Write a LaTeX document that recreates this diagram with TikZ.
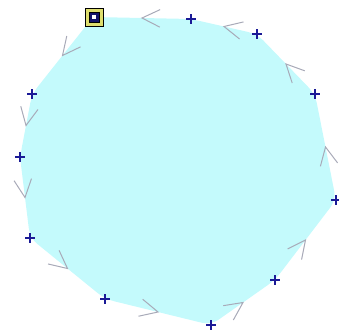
\documentclass[tikz,border=0pt]{standalone}
\usetikzlibrary{calc}

\definecolor{polyfill}{RGB}{196,250,252}
\definecolor{chevgray}{RGB}{168,170,184}
\definecolor{plusblue}{RGB}{26,26,150}
\definecolor{ringyellow}{RGB}{222,222,110}

\begin{document}
\begin{tikzpicture}[
  x=1pt, y=-1pt,
  area/.style={fill=polyfill, rounded corners=9pt},
  chev/.style={draw=chevgray, line width=1pt},
  plusmark/.pic={\draw[plusblue, line width=1.8pt] (-5,0) -- (5,0) (0,-5) -- (0,5);},
  ring/.style={draw=black, line width=0.8pt, fill=ringyellow, minimum size=18pt, inner sep=0pt},
  core/.style={draw=black, line width=0.8pt, fill=plusblue!70!black, minimum size=10pt, inner sep=0pt},
  dot/.style={fill=white, minimum size=4pt, inner sep=0pt}
]
\useasboundingbox (0,0) rectangle (339,332);

% vertices, in drawing order
\coordinate (p0) at (93,17);
\coordinate (p1) at (32,94);
\coordinate (p2) at (20,157);
\coordinate (p3) at (30,238);
\coordinate (p4) at (105,299);
\coordinate (p5) at (211,325);
\coordinate (p6) at (275,280);
\coordinate (p7) at (336,200);
\coordinate (p8) at (315,94);
\coordinate (p9) at (257,34);
\coordinate (p10) at (191,19);

\fill[area] (p0) -- (p1) -- (p2) -- (p3) -- (p4) -- (p5) -- (p6)
  -- (p7) -- (p8) -- (p9) -- (p10) -- cycle;

% direction chevrons at edge midpoints
\foreach \a/\b in {p0/p1,p1/p2,p2/p3,p3/p4,p4/p5,p5/p6,p6/p7,p7/p8,p8/p9,p9/p10,p10/p0} {
  \coordinate (m) at ($(\a)!0.5!(\b)$);
  \draw[chev] ($(m)!20pt!26:(\a)$) -- (m) -- ($(m)!20pt!-26:(\a)$);
}

\foreach \p in {p1,p2,p3,p4,p5,p6,p7,p8,p9,p10}
  \pic at (\p) {plusmark};

% start marker
\node[ring] (start) at (94,17) {};
\node[core] (startcore) at (start) {};
\node[dot] (startdot) at (start) {};

\end{tikzpicture}
\end{document}
